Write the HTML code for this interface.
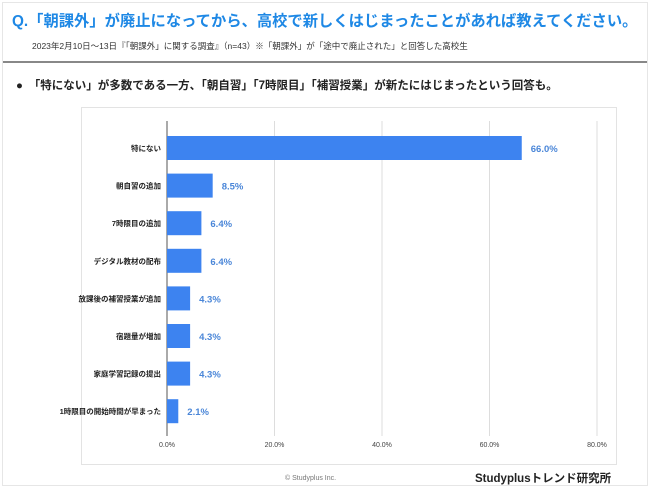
<!DOCTYPE html>
<html><head><meta charset="utf-8"><style>
body{margin:0;width:650px;height:488px;background:#fff;font-family:"Liberation Sans","Noto Sans CJK JP",sans-serif;position:relative;overflow:hidden}
.abs{position:absolute;white-space:nowrap}
</style></head><body>
<div class="abs" style="left:2px;top:2px;width:644px;height:482px;border:1px solid #e6e6e6"></div>
<div class="abs" style="left:12px;top:9px;font-size:15.3px;font-weight:bold;color:#1e88e5">Q.「朝課外」が廃止になってから、高校で新しくはじまったことがあれば教えてください。</div>
<div class="abs" style="left:32px;top:40px;font-size:8.5px;color:#333">2023年2月10日～13日『「朝課外」に関する調査』（n=43）※「朝課外」が「途中で廃止された」と回答した高校生</div>
<div class="abs" style="left:3px;top:61px;width:644px;height:2px;background:#888"></div>
<div class="abs" style="left:16px;top:77px;font-size:11.5px;font-weight:bold;color:#222">●　「特にない」が多数である一方、「朝自習」「7時限目」「補習授業」が新たにはじまったという回答も。</div>
<div class="abs" style="left:81px;top:107px;width:534px;height:356px;border:1px solid #e3e3e3"></div>
<svg class="abs" style="left:0;top:0" width="650" height="488" id="chart"></svg>
<div class="abs" style="left:285px;top:475px;font-size:7px;color:#777">© Studyplus Inc.</div>
<div class="abs" style="left:475px;top:470px;font-size:11.5px;font-weight:bold;color:#222">Studyplusトレンド研究所</div>
<script>
const categories=["特にない","朝自習の追加","7時限目の追加","デジタル教材の配布","放課後の補習授業が追加","宿題量が増加","家庭学習記録の提出","1時限目の開始時間が早まった"];
const values=[66.0,8.5,6.4,6.4,4.3,4.3,4.3,2.1];
const ticks=[0,20,40,60,80];
const svg=document.getElementById('chart');const NS='http://www.w3.org/2000/svg';
const x=v=>167+v*5.375;const y=i=>148+i*37.6;
function mk(t,a){const e=document.createElementNS(NS,t);for(const k in a)e.setAttribute(k,a[k]);svg.appendChild(e);return e;}
ticks.forEach(t=>{
 const g=mk('line',{x1:x(t),x2:x(t),y1:121,y2:436,stroke:t===0?'#555':'#ddd','stroke-width':1});
 
 
 const l=mk('text',{x:x(t),y:447,'font-size':7,fill:'#444','text-anchor':'middle'});l.textContent=t.toFixed(1)+'%';
 
 
});
categories.forEach((c,i)=>{
 const b=mk('rect',{x:x(0),y:y(i)-12,width:x(values[i])-x(0),height:24,fill:'#3d83f0'});
 
 
 const l=mk('text',{x:161,y:y(i)+3,'font-size':7.5,'font-weight':'bold',fill:'#222','text-anchor':'end'});l.textContent=c;
 
 
 const v=mk('text',{x:x(values[i])+9,y:y(i)+4,'font-size':9.5,'font-weight':'bold',fill:'#4a86d8'});v.textContent=values[i].toFixed(1)+'%';
 
 
});
</script>
</body></html>
